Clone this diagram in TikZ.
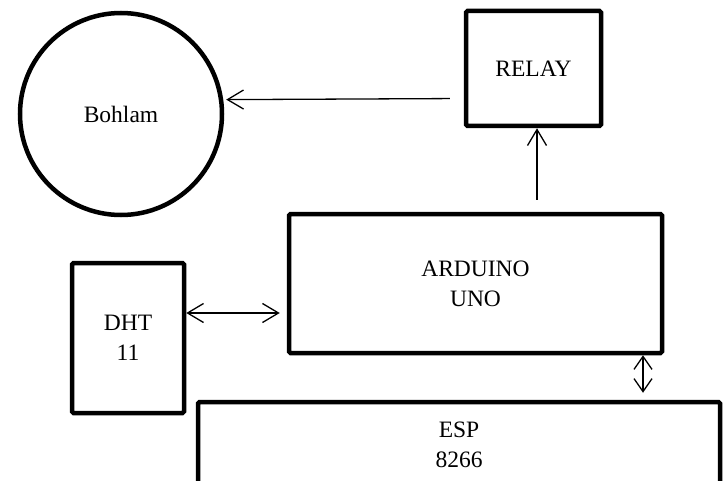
\documentclass[tikz,border=0pt]{standalone}
\usepackage{fontspec}
\setmainfont{Liberation Serif}
\usetikzlibrary{arrows.meta,calc}
\begin{document}
\begin{tikzpicture}[x=1pt,y=-1pt,
  blk/.style={draw, line width=4.5pt, rectangle, inner sep=0pt, rounded corners=1.5pt,
    align=center, font=\fontsize{23.5}{30}\selectfont},
  arr/.style={line width=1.3pt, -{Straight Barb[length=16pt,width=19pt,line width=1.3pt]}},
  dbl/.style={line width=1.3pt, {Straight Barb[length=16pt,width=19pt,line width=1.3pt]}-{Straight Barb[length=16pt,width=19pt,line width=1.3pt]}},
  dbls/.style={line width=1.3pt, {Straight Barb[length=13pt,width=18pt,line width=1.3pt]}-{Straight Barb[length=13pt,width=18pt,line width=1.3pt]}}]
\useasboundingbox (0,0) rectangle (727,481);
\clip (0,0) rectangle (727,481);
\fill[white] (0,0) rectangle (727,481);
\node[blk, circle, minimum size=202pt] (bohlam) at (121,114) {Bohlam};
\node[blk, minimum width=135pt, minimum height=115pt] (relay) at (533.5,68.5) {RELAY};
\node[blk, minimum width=373pt, minimum height=139pt] (ard) at (475.5,283.5) {ARDUINO\\UNO};
\node[blk, minimum width=112pt, minimum height=150pt] (dht) at (128,338) {DHT\\11};
\node[blk, minimum width=522pt, minimum height=86pt] (esp) at (459,445) {ESP\\8266};
% relay -> bohlam
\draw[arr, shorten <=14pt, shorten >=3pt] ($(relay.west)+(0,30)$) -- (bohlam.8.5);
% arduino -> relay
\draw[arr, shorten <=12pt] ($(ard.north -| relay.south)+(3.5,0)$) -- ($(relay.south)+(3.5,0)$);
% dht <-> arduino
\coordinate (dm) at ($(ard.west)+(0,29.5)$);
\draw[dbl, shorten >=7pt] (dht.east |- dm) -- (dm);
% arduino <-> esp
\coordinate (em) at ($(ard.south)+(167.5,0)$);
\draw[dbls, shorten >=7pt] (em) -- (esp.north -| em);
\end{tikzpicture}
\end{document}
